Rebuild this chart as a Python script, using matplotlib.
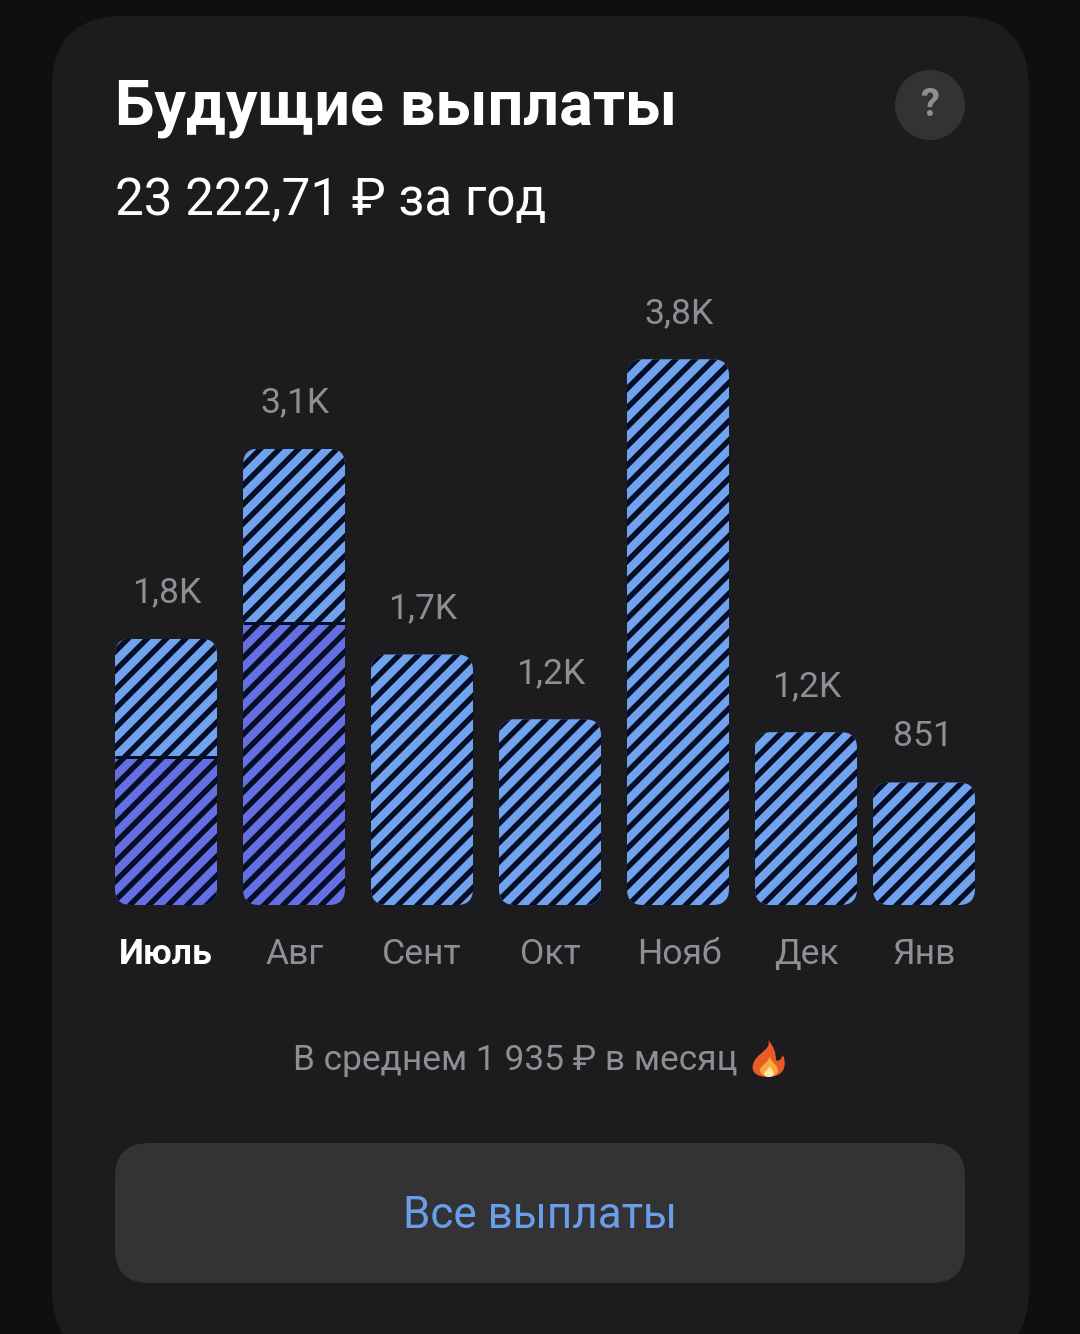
import matplotlib
matplotlib.use("Agg")
import matplotlib.pyplot as plt
from matplotlib.patches import FancyBboxPatch, Circle, PathPatch
from matplotlib.path import Path

plt.rcParams['font.family'] = ['Roboto', 'DejaVu Sans']
plt.rcParams['hatch.linewidth'] = 3.4

# data
months = ['Июль', 'Авг', 'Сент', 'Окт', 'Нояб', 'Дек', 'Янв']
paid = [1030, 1960, 0, 0, 0, 0, 0]
future = [820, 1210, 1740, 1290, 3790, 1200, 851]
value_labels = ['1,8K', '3,1K', '1,7K', '1,2K', '3,8K', '1,2K', '851']

title = 'Будущие выплаты'
subtitle = '23 222,71 ₽ за год'
average = 'В среднем 1 935 ₽ в месяц'
button = 'Все выплаты'

# layout, pixels
W, H = 1080, 1334
DPI = 115
bar_left = [115, 243, 371, 499, 627, 755, 873]
label_x = [167, 295, 423, 551, 679, 807, 923]
month_x = [166, 295, 422, 550, 679, 806, 924]
BAR_W = 102
BASE_Y = 905
TOP_Y = 205
PX_PER_RUB = 0.144

BG = '#0f0f10'
CARD = '#1c1c1e'
GREY_BTN = '#333335'
LIGHT = '#70a2ee'
DARK = '#6470e2'
STRIPE = '#050e24'
LABEL = '#8e8e93'


def px(size):
    return size * 72 / DPI


fig = plt.figure(figsize=(W / DPI, H / DPI), dpi=DPI, facecolor=BG)

bg = fig.add_axes([0, 0, 1, 1])
bg.set_xlim(0, W)
bg.set_ylim(H, 0)
bg.axis('off')

bg.add_patch(FancyBboxPatch((52, 16), 977, 1345, boxstyle='round,pad=0,rounding_size=72',
                            fc=CARD, ec='none'))
bg.add_patch(FancyBboxPatch((115, 1143), 850, 140, boxstyle='round,pad=0,rounding_size=34',
                            fc=GREY_BTN, ec='none'))
bg.add_patch(Circle((930, 105), 35, fc=GREY_BTN, ec='none'))

bg.text(115, 125, title, color='#ffffff', fontsize=px(63), fontweight='bold', va='baseline')
bg.text(115, 215, subtitle, color='#ffffff', fontsize=px(51.2), va='baseline')
bg.text(930, 105, '?', color='#8e8e93', fontsize=px(38), fontweight='bold', ha='center', va='center')
bg.text(293, 1070, average, color=LABEL, fontsize=px(35.3), va='baseline')
bg.text(540, 1228, button, color='#6b9eea', fontsize=px(44), ha='center', va='baseline')

# flame
outer = [(Path.MOVETO, (768, 1040)), (Path.CURVE4, (772, 1048)), (Path.CURVE4, (760, 1052)),
         (Path.CURVE4, (755, 1060)), (Path.CURVE4, (750, 1068)), (Path.CURVE4, (752, 1077)),
         (Path.CURVE4, (768, 1077)), (Path.CURVE4, (782, 1077)), (Path.CURVE4, (788, 1068)),
         (Path.CURVE4, (783, 1055)), (Path.CURVE4, (781, 1060)), (Path.CURVE4, (778, 1062)),
         (Path.CURVE4, (776, 1060)), (Path.CURVE4, (776, 1052)), (Path.CURVE4, (773, 1045)),
         (Path.LINETO, (768, 1040))]
inner = [(Path.MOVETO, (769, 1056)), (Path.CURVE4, (770, 1063)), (Path.CURVE4, (759, 1065)),
         (Path.CURVE4, (760, 1071)), (Path.CURVE4, (761, 1078)), (Path.CURVE4, (777, 1078)),
         (Path.CURVE4, (778, 1071)), (Path.CURVE4, (778, 1065)), (Path.CURVE4, (772, 1063)),
         (Path.LINETO, (769, 1056))]
core = [(Path.MOVETO, (769, 1066)), (Path.CURVE4, (770, 1069)), (Path.CURVE4, (764, 1071)),
        (Path.CURVE4, (764, 1074)), (Path.CURVE4, (765, 1078)), (Path.CURVE4, (773, 1078)),
        (Path.CURVE4, (774, 1074)), (Path.CURVE4, (774, 1071)), (Path.CURVE4, (771, 1069)),
        (Path.LINETO, (769, 1066))]
for shape, col in [(outer, '#ea5a26'), (inner, '#f9a83e'), (core, '#fde9a8')]:
    codes, verts = zip(*shape)
    bg.add_patch(PathPatch(Path(verts, codes), fc=col, ec='none'))

# chart axes: x in pixels, y in rubles
ax = fig.add_axes([0, (H - BASE_Y) / H, 1, (BASE_Y - TOP_Y) / H])
ax.patch.set_alpha(0)
ax.set_xlim(0, W)
ax.set_ylim(0, (BASE_Y - TOP_Y) / PX_PER_RUB)
ax.axis('off')

aspect = 1 / PX_PER_RUB
for i in range(len(months)):
    total = paid[i] + future[i]
    clip = FancyBboxPatch((bar_left[i], 0), BAR_W, total,
                          boxstyle='round,pad=0,rounding_size=16',
                          mutation_aspect=aspect, transform=ax.transData)
    lower = ax.bar(bar_left[i], paid[i], BAR_W, align='edge', color=DARK,
                   edgecolor=STRIPE, hatch='//', linewidth=0)
    upper = ax.bar(bar_left[i], future[i], BAR_W, bottom=paid[i], align='edge', color=LIGHT,
                   edgecolor=STRIPE, hatch='//', linewidth=0)
    for b in list(lower) + list(upper):
        b.set_clip_path(clip)
    if paid[i] > 0:
        ax.plot([bar_left[i], bar_left[i] + BAR_W], [paid[i], paid[i]], color=STRIPE, lw=px(3),
                solid_capstyle='butt')
    # value above the bar
    y_text = BASE_Y - total * PX_PER_RUB - 46
    bg.text(label_x[i], y_text, value_labels[i], color=LABEL, fontsize=px(35.5),
            ha='center', va='center')
    bg.text(month_x[i], 954, months[i], color='#ffffff' if i == 0 else LABEL,
            fontsize=px(35.5), fontweight='bold' if i == 0 else 'normal',
            ha='center', va='center')

fig.savefig('out.png', dpi=DPI, facecolor=BG)
